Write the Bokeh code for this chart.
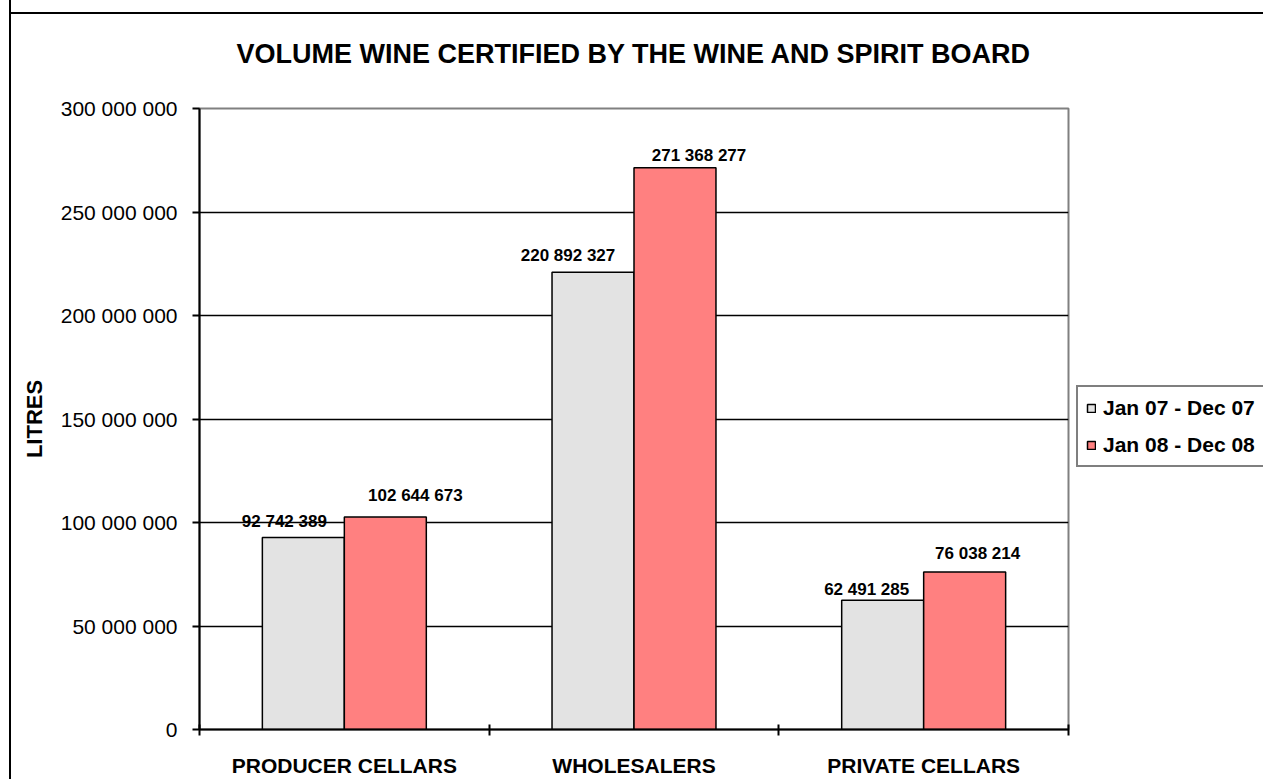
from bokeh.plotting import figure
from bokeh.models import (Range1d, LinearAxis, FixedTicker, ColumnDataSource, Legend,
                          LegendItem, CustomJSTickFormatter)
from bokeh.transform import dodge
from bokeh.core.properties import value
from bokeh.embed import file_html
from bokeh.resources import INLINE

# ---------------- data ----------------
categories = ["PRODUCER CELLARS", "WHOLESALERS", "PRIVATE CELLARS"]
series_names = ["Jan 07 - Dec 07", "Jan 08 - Dec 08"]
vol_2007 = [92742389, 220892327, 62491285]
vol_2008 = [102644673, 271368277, 76038214]
y_ticks = [0, 50000000, 100000000, 150000000, 200000000, 250000000, 300000000]
title_text = "VOLUME WINE CERTIFIED BY THE WINE AND SPIRIT BOARD"
y_label = "LITRES"

# ---------------- style ----------------
FONT = "Liberation Sans"
GRAY = "#E3E3E3"
RED = "#FF8080"
BAR_W = 0.283
# hand-placed label nudges (px): horizontal shift, vertical gap above bar
nudge_2007_dx = [-19, -25, -16]
nudge_2007_gap = [16, 17, 11]
nudge_2008_dx = [30, 24, 13]
nudge_2008_gap = [22, 12, 19]

n = len(categories)
centers = [i + 0.5 for i in range(n)]          # category slots on the linear x scale
bounds = list(range(n + 1))


def fmt(v):
    return f"{v:,}".replace(",", " ")


src07 = ColumnDataSource(dict(x=centers, v=vol_2007, t=[fmt(v) for v in vol_2007],
                              dx=nudge_2007_dx, dy=[-g for g in nudge_2007_gap]))
src08 = ColumnDataSource(dict(x=centers, v=vol_2008, t=[fmt(v) for v in vol_2008],
                              dx=nudge_2008_dx, dy=[-g for g in nudge_2008_gap]))

p = figure(x_range=Range1d(0, n), y_range=Range1d(0, y_ticks[-1]),
           frame_width=869, frame_height=621,
           output_backend="svg", toolbar_location=None,
           x_axis_location=None, y_axis_location="left",
           min_border_left=188, min_border_right=195, min_border_top=113, min_border_bottom=50)

# outer chart border: left edge as CSS border, top edge as a background stripe
p.styles = {"border-left": "2px solid black",
            "margin-left": "9px", "margin-top": "-5px",
            "background": "linear-gradient(#000, #000) 0 17px / 100% 2px no-repeat, #fff"}

p.outline_line_color = "#808080"
p.outline_line_width = 2
p.background_fill_color = "white"
p.border_fill_color = None

# title
p.title.text = title_text
p.title.align = "center"
p.title.text_font = FONT
p.title.text_font_size = "27px"
p.title.text_font_style = "bold"
p.title.text_color = "black"
p.title.standoff = 80

# grid
p.ygrid.ticker = FixedTicker(ticks=y_ticks[1:-1], minor_ticks=[])
p.ygrid.grid_line_color = "black"
p.ygrid.grid_line_width = 1.3
for g in p.xgrid:
    g.visible = False

# y axis
ya = p.yaxis[0]
ya.ticker = FixedTicker(ticks=y_ticks, minor_ticks=[])
ya.formatter = CustomJSTickFormatter(code="return tick.toLocaleString('en-US').replace(/,/g, ' ');")
ya.axis_line_color = "black"
ya.axis_line_width = 2
ya.major_tick_in = 0
ya.major_tick_out = 7
ya.major_tick_line_width = 2
ya.major_tick_line_color = "black"
ya.minor_tick_line_color = None
ya.major_label_text_font = FONT
ya.major_label_text_font_size = "21px"
ya.major_label_text_color = "black"
ya.major_label_standoff = 15
ya.axis_label = y_label
ya.axis_label_text_font = FONT
ya.axis_label_text_font_size = "22px"
ya.axis_label_text_font_style = "bold"
ya.axis_label_text_color = "black"
ya.axis_label_standoff = 11

# x axes: boundary ticks + category labels
tick_axis = LinearAxis(ticker=FixedTicker(ticks=bounds, minor_ticks=[]))
tick_axis.axis_line_color = "black"
tick_axis.axis_line_width = 2
tick_axis.major_tick_in = 5
tick_axis.major_tick_out = 6
tick_axis.major_tick_line_width = 2
tick_axis.major_tick_line_color = "black"
tick_axis.minor_tick_line_color = None
tick_axis.major_label_text_font_size = "0px"
tick_axis.major_label_text_alpha = 0
tick_axis.major_label_standoff = 0

cat_axis = LinearAxis(ticker=FixedTicker(ticks=centers, minor_ticks=[]),
                      major_label_overrides={c: lab for c, lab in zip(centers, categories)})
cat_axis.axis_line_color = None
cat_axis.major_tick_line_color = None
cat_axis.minor_tick_line_color = None
cat_axis.major_label_text_font = FONT
cat_axis.major_label_text_font_size = "21px"
cat_axis.major_label_text_font_style = "bold"
cat_axis.major_label_text_color = "black"
cat_axis.major_label_standoff = 12

p.add_layout(tick_axis, "below")
p.add_layout(cat_axis, "below")

# bars
r07 = p.vbar(x=dodge("x", -BAR_W / 2), top="v", width=BAR_W, source=src07,
             fill_color=GRAY, line_color="black", line_width=1.5)
r08 = p.vbar(x=dodge("x", BAR_W / 2), top="v", width=BAR_W, source=src08,
             fill_color=RED, line_color="black", line_width=1.5)

# value labels
for src, off in ((src07, -BAR_W / 2), (src08, BAR_W / 2)):
    p.text(x=dodge("x", off), y="v", text="t", source=src,
           x_offset="dx", y_offset="dy",
           text_align="center", text_baseline="alphabetic",
           text_font=value(FONT), text_font_size="17px", text_font_style="bold",
           text_color="black")

# legend
legend = Legend(items=[LegendItem(label=series_names[0], renderers=[r07]),
                       LegendItem(label=series_names[1], renderers=[r08])],
                location=(8, 262), orientation="vertical")
legend.label_text_font = FONT
legend.label_text_font_size = "21px"
legend.label_text_font_style = "bold"
legend.label_text_color = "black"
legend.glyph_width = 10
legend.glyph_height = 10
legend.label_height = 25
legend.label_standoff = 7
legend.spacing = 12
legend.padding = 8
legend.margin = 0
legend.border_line_color = "black"
legend.border_line_width = 2
legend.background_fill_color = "white"
p.add_layout(legend, "right")

open("out.html", "w").write(file_html(p, INLINE))
